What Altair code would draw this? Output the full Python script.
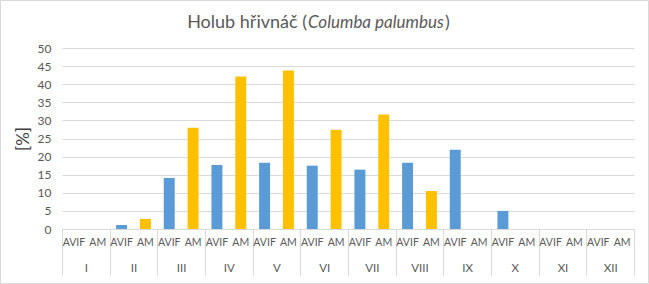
import altair as alt
import pandas as pd

months = ["I", "II", "III", "IV", "V", "VI", "VII", "VIII", "IX", "X", "XI", "XII"]
series = ["AVIF", "AM"]
avif = [0, 1.1, 14.1, 17.7, 18.3, 17.5, 16.4, 18.3, 21.9, 5.0, 0, 0]
am = [0, 2.8, 28.0, 42.1, 43.8, 27.4, 31.6, 10.5, 0, 0, 0, 0]

rows = []
for i, m in enumerate(months):
    rows.append({"month": m, "series": "AVIF", "value": avif[i]})
    rows.append({"month": m, "series": "AM", "value": am[i]})
df = pd.DataFrame(rows)

FONT = "Lato"
GRAY = "#595959"
W, H = 572, 181

xscale = alt.Scale(domain=months, paddingInner=0, paddingOuter=0)
xoff = alt.Scale(domain=series, paddingInner=0.54, paddingOuter=0.27)

base = alt.Chart(df)

bars = base.mark_bar().encode(
    x=alt.X("month:N", scale=xscale, sort=months,
            axis=alt.Axis(title=None, labelAngle=0, tickBand="extent", tickSize=47,
                          tickColor="#d9d9d9", domainColor="#d9d9d9", labelPadding=-14,
                          labelColor=GRAY, labelFont=FONT, labelFontSize=11.5, grid=False)),
    xOffset=alt.XOffset("series:N", scale=xoff, sort=series),
    y=alt.Y("value:Q", scale=alt.Scale(domain=[0, 50]),
            axis=alt.Axis(title="[%]", values=list(range(0, 55, 5)), domain=False, ticks=False,
                          gridColor="#d9d9d9", labelColor=GRAY, labelFont=FONT, labelFontSize=12,
                          labelPadding=11, titleColor="#404040", titleFont=FONT, titleFontSize=17,
                          titleFontWeight="normal", titlePadding=5)),
    color=alt.Color("series:N", scale=alt.Scale(domain=series, range=["#5B9BD5", "#FFC000"]),
                    legend=None),
)

sublabels = base.mark_text(font=FONT, fontSize=10.5, color=GRAY, baseline="middle").encode(
    x=alt.X("month:N", scale=xscale, sort=months),
    xOffset=alt.XOffset("series:N", scale=xoff, sort=series),
    y=alt.value(H + 14),
    text="series:N",
)

tdf = pd.DataFrame({"a": [0]})
t1 = alt.Chart(tdf).mark_text(text="Holub hřivnáč (", font=FONT, fontSize=18, color=GRAY,
                               align="right", baseline="middle").encode(
    x=alt.value(245), y=alt.value(-25))
t2 = alt.Chart(tdf).mark_text(text="Columba palumbus", font=FONT, fontSize=17, color=GRAY,
                               fontStyle="italic", align="left", baseline="middle").encode(
    x=alt.value(246), y=alt.value(-25))
t3 = alt.Chart(tdf).mark_text(text=")", font=FONT, fontSize=18, color=GRAY,
                               align="left", baseline="middle").encode(
    x=alt.value(383), y=alt.value(-25))
border = alt.Chart(tdf).mark_rect(fill=None, stroke="#d9d9d9", strokeWidth=1).encode(
    x=alt.value(-61.5), x2=alt.value(W + 14.5), y=alt.value(-47.5), y2=alt.value(H + 54.5))

chart = alt.layer(bars, sublabels, t1, t2, t3, border).properties(
    width=W, height=H,
    autosize=alt.AutoSizeParams(type="none"),
    padding={"left": 62, "top": 48, "right": 15, "bottom": 55},
    background="white",
).configure_view(stroke=None)

chart.save("out.html", embed_options={"renderer": "svg", "actions": False})
